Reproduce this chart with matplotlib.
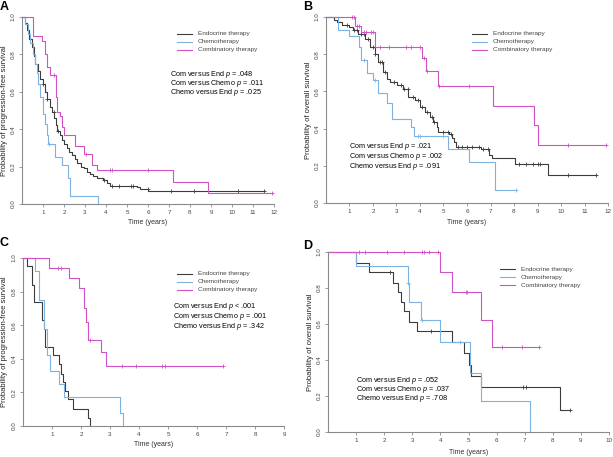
import numpy as np
import matplotlib
matplotlib.use("Agg")
import matplotlib.pyplot as plt

plt.rcParams['font.family'] = ['Liberation Sans', 'DejaVu Sans']
plt.rcParams['mathtext.fontset'] = 'custom'
plt.rcParams['mathtext.it'] = 'Liberation Sans:italic'
plt.rcParams['mathtext.rm'] = 'Liberation Sans'

# ----------------- Data ----------------- #
groups = ["Endocrine therapy", "Chemotherapy", "Combinatory therapy"]

# A: progression-free survival, all patients
a_endo_t = [0, 0.15, 0.24, 0.35, 0.48, 0.56, 0.64, 0.75, 0.87, 1.0, 1.11, 1.2, 1.35, 1.43, 1.51,
            1.6, 1.67, 1.8, 1.9, 2.0, 2.14, 2.25, 2.38, 2.5, 2.62, 2.8, 2.93, 3.1, 3.25, 3.4,
            3.57, 3.88, 4.04, 4.2, 5.47, 5.63, 6.02, 11.5]
a_endo_s = [1.0, 0.97, 0.93, 0.88, 0.84, 0.79, 0.75, 0.71, 0.67, 0.64, 0.60, 0.56, 0.52, 0.49, 0.46,
            0.42, 0.39, 0.37, 0.34, 0.32, 0.30, 0.28, 0.26, 0.24, 0.22, 0.20, 0.19, 0.17, 0.16, 0.15,
            0.14, 0.13, 0.11, 0.095, 0.09, 0.08, 0.068, 0.068]
a_endo_c = [1.0, 1.2, 1.5, 1.7, 3.9, 4.3, 4.6, 5.2, 5.3, 6.0, 7.1, 8.2, 10.3, 11.5]
a_chemo_t = [0, 0.12, 0.3, 0.4, 0.5, 0.6, 0.7, 0.78, 0.87, 1.0, 1.1, 1.18, 1.25, 1.55, 1.9, 2.2, 2.28, 3.6]
a_chemo_s = [1.0, 0.96, 0.91, 0.86, 0.80, 0.75, 0.70, 0.64, 0.57, 0.48, 0.43, 0.37, 0.32, 0.25, 0.21, 0.14, 0.045, 0.0]
a_chemo_c = [1.3]
a_comb_t = [0, 0.54, 0.94, 1.1, 1.2, 1.35, 1.62, 1.67, 1.82, 1.9, 2.0, 2.54, 2.93, 3.33, 3.57, 7.18, 8.88, 11.95]
a_comb_s = [1.0, 0.90, 0.87, 0.80, 0.73, 0.69, 0.57, 0.49, 0.47, 0.41, 0.37, 0.31, 0.27, 0.21, 0.18, 0.115, 0.06, 0.06]
a_comb_c = [1.5, 3.05, 4.2, 4.3, 6.0, 11.9]
a_pvals = ["Com versus End $p$ = .048", "Com versus Chemo $p$ = .011", "Chemo versus End $p$ = .025"]

# B: overall survival, all patients
b_endo_t = [0, 0.33, 0.46, 0.67, 0.96, 1.17, 1.38, 1.67, 1.88, 2.09, 2.23, 2.44, 2.59, 2.73, 3.01,
            3.29, 3.51, 3.79, 4.0, 4.22, 4.43, 4.57, 4.71, 4.78, 5.25, 5.35, 5.45, 5.55, 6.6, 6.95,
            7.05, 8.04, 9.46, 11.51]
b_endo_s = [1.0, 0.986, 0.973, 0.955, 0.946, 0.928, 0.91, 0.884, 0.839, 0.803, 0.758, 0.704, 0.668,
            0.651, 0.633, 0.615, 0.57, 0.552, 0.516, 0.489, 0.462, 0.435, 0.409, 0.38, 0.37, 0.35,
            0.33, 0.30, 0.29, 0.26, 0.24, 0.21, 0.15, 0.15]
b_endo_c = [0.9, 1.2, 1.3, 1.5, 1.6, 1.8, 2.0, 2.1, 2.3, 2.4, 2.5, 2.9, 3.2, 3.3, 3.5, 3.7, 3.9,
            4.1, 4.3, 4.5, 4.6, 5.0, 5.2, 5.3, 5.6, 5.8, 6.0, 6.2, 6.5, 6.7, 6.9, 8.2, 8.5, 8.8,
            9.0, 9.1, 10.3, 11.5]
b_chemo_t = [0, 0.53, 1.0, 1.4, 1.5, 1.75, 2.0, 2.2, 2.6, 2.8, 3.6, 3.75, 5.2, 6.1, 7.2, 8.1]
b_chemo_s = [1.0, 0.93, 0.90, 0.84, 0.77, 0.70, 0.66, 0.59, 0.54, 0.45, 0.41, 0.36, 0.29, 0.22, 0.07, 0.07]
b_chemo_c = [1.6, 2.1, 3.9, 4.0, 5.0, 8.1]
b_comb_t = [0, 1.25, 1.5, 2.1, 4.1, 4.25, 4.75, 7.1, 8.85, 9.0, 11.9]
b_comb_s = [1.0, 0.95, 0.92, 0.84, 0.78, 0.71, 0.63, 0.52, 0.42, 0.31, 0.31]
b_comb_c = [1.1, 1.2, 1.3, 1.4, 1.6, 1.7, 1.9, 2.0, 2.3, 2.7, 3.4, 3.6, 4.0, 4.15, 4.3, 4.8, 6.1, 10.3, 11.9]
b_pvals = ["Com versus End $p$ = .021", "Com versus Chemo $p$ = .002", "Chemo versus End $p$ = .091"]

# C: progression-free survival, subgroup
c_endo_t = [0, 0.14, 0.3, 0.37, 0.64, 0.71, 0.76, 1.05, 1.25, 1.3, 1.39, 1.44, 1.56, 1.74, 2.25, 2.31]
c_endo_s = [1.0, 0.95, 0.84, 0.74, 0.63, 0.58, 0.47, 0.42, 0.37, 0.31, 0.26, 0.21, 0.16, 0.10, 0.05, 0.0]
c_endo_c = []
c_chemo_t = [0, 0.43, 0.54, 0.71, 0.83, 0.94, 1.23, 1.4, 3.35, 3.44]
c_chemo_s = [1.0, 0.92, 0.75, 0.58, 0.42, 0.33, 0.25, 0.17, 0.08, 0.0]
c_chemo_c = []
c_comb_t = [0, 0.89, 1.57, 1.92, 2.11, 2.18, 2.25, 2.69, 2.87, 6.9]
c_comb_s = [1.0, 0.94, 0.88, 0.82, 0.70, 0.62, 0.51, 0.44, 0.36, 0.36]
c_comb_c = [1.2, 1.3, 2.3, 3.4, 3.9, 4.8, 4.9, 6.9]
c_pvals = ["Com versus End $p$ < .001", "Com versus Chemo $p$ = .001", "Chemo versus End $p$ = .342"]

# D: overall survival, subgroup
d_endo_t = [0, 1.0, 1.45, 2.3, 2.5, 2.6, 2.7, 2.9, 3.15, 4.4, 4.85, 5.0, 5.1, 5.45, 8.25, 8.6]
d_endo_s = [1.0, 0.94, 0.89, 0.83, 0.78, 0.72, 0.67, 0.61, 0.56, 0.50, 0.44, 0.37, 0.31, 0.25, 0.125, 0.125]
d_endo_c = [2.2, 3.65, 6.95, 7.05, 8.6]
d_chemo_t = [0, 1.0, 2.85, 2.9, 3.3, 4.0, 5.05, 5.45, 7.2]
d_chemo_s = [1.0, 0.92, 0.83, 0.72, 0.62, 0.50, 0.33, 0.17, 0.0]
d_chemo_c = [2.85, 3.35, 4.7]
d_comb_t = [0, 4.0, 4.4, 5.45, 5.85, 7.5]
d_comb_s = [1.0, 0.89, 0.78, 0.62, 0.47, 0.47]
d_comb_c = [1.1, 1.3, 2.1, 2.7, 3.35, 3.4, 3.6, 3.9, 4.9, 4.95, 6.2, 6.9, 7.5]
d_pvals = ["Com versus End $p$ = .052", "Com versus Chemo $p$ = .037", "Chemo versus End $p$ = .708"]

colors = ["#3c3c3c", "#7db3e3", "#d052c6"]
W, H = 613, 457


# ----------------- Helpers ----------------- #
def fx(px):
    return px / W


def fy(py):
    return 1 - py / H


def km(ax, t, s, cens, color):
    ax.step(t, s, where="post", color=color, lw=0.8, clip_on=False)
    if cens:
        idx = np.searchsorted(t, cens, side="right") - 1
        ax.plot(cens, np.array(s)[idx], "+", color=color, ms=3, mew=0.6, clip_on=False)


def panel(rect, letter, curves, xmax, ylabel, leg_xy, p_xy, p_lines, xlab_y, ylab_x, letter_xy):
    ax = fig.add_axes(rect)
    for (t, s, c), col in zip(curves, colors):
        km(ax, t, s, c, col)
    ax.set_xlim(0, xmax)
    ax.set_ylim(0, 1)
    for sp in ("top", "right"):
        ax.spines[sp].set_visible(False)
    for sp in ("left", "bottom"):
        ax.spines[sp].set_color("#8a8a8a")
        ax.spines[sp].set_linewidth(0.8)
    ax.set_xticks(range(1, xmax + 1))
    ax.set_yticks([0, 0.2, 0.4, 0.6, 0.8, 1.0])
    ax.set_yticklabels(["0.0", "0.2", "0.4", "0.6", "0.8", "1.0"], rotation=90, va="center")
    ax.tick_params(labelsize=4.5, length=2.5, width=0.6, color="#8a8a8a", labelcolor="#444444", pad=2)

    # axis labels in figure pixel positions
    fig.text(fx(rect[0] * W + rect[2] * W / 2), fy(xlab_y), "Time (years)", ha="center", va="center",
             fontsize=5, color="#333333")
    fig.text(fx(ylab_x), rect[1] + rect[3] / 2, ylabel, rotation=90, ha="center", va="center",
             fontsize=5.5, color="#222222")
    fig.text(fx(letter_xy[0]), fy(letter_xy[1]), letter, fontsize=9, fontweight="bold",
             ha="left", va="center")

    # legend
    lx, ly = leg_xy
    for i, (g, col) in enumerate(zip(groups, colors)):
        yy = fy(ly + i * 8)
        fig.add_artist(plt.Line2D([fx(lx), fx(lx + 15)], [yy, yy], color=col, lw=0.8,
                                  transform=fig.transFigure))
        fig.text(fx(lx + 21), yy, g, fontsize=4.6, color="#444444", va="center", ha="left")

    # p values
    px, py = p_xy
    for i, line in enumerate(p_lines):
        fig.text(fx(px), fy(py + i * 9.5), line, fontsize=5.2, color="black", va="center", ha="left")
    return ax


fig = plt.figure(figsize=(6.13, 4.57), dpi=100)

panel([fx(22), fy(204), fx(274 - 22), (204 - 17) / H], "A",
      [(a_endo_t, a_endo_s, a_endo_c), (a_chemo_t, a_chemo_s, a_chemo_c), (a_comb_t, a_comb_s, a_comb_c)],
      12, "Probability of progression-free survival", (177, 34), (170, 74), a_pvals, 222, 5, (0, 7))

panel([fx(326), fy(203), fx(608 - 326), (203 - 17) / H], "B",
      [(b_endo_t, b_endo_s, b_endo_c), (b_chemo_t, b_chemo_s, b_chemo_c), (b_comb_t, b_comb_s, b_comb_c)],
      12, "Probability of overall survival", (472, 34), (349, 147), b_pvals, 223, 309, (303, 7))

panel([fx(23), fy(426), fx(284 - 23), (426 - 258) / H], "C",
      [(c_endo_t, c_endo_s, c_endo_c), (c_chemo_t, c_chemo_s, c_chemo_c), (c_comb_t, c_comb_s, c_comb_c)],
      9, "Probability of progression-free survival", (177, 274), (173, 307), c_pvals, 445, 5, (0, 243))

panel([fx(328), fy(432), fx(609 - 328), (432 - 252) / H], "D",
      [(d_endo_t, d_endo_s, d_endo_c), (d_chemo_t, d_chemo_s, d_chemo_c), (d_comb_t, d_comb_s, d_comb_c)],
      10, "Probability of overall survival", (500, 269), (356, 380), d_pvals, 453, 310, (303, 246))

fig.savefig("out.png", dpi=100)
